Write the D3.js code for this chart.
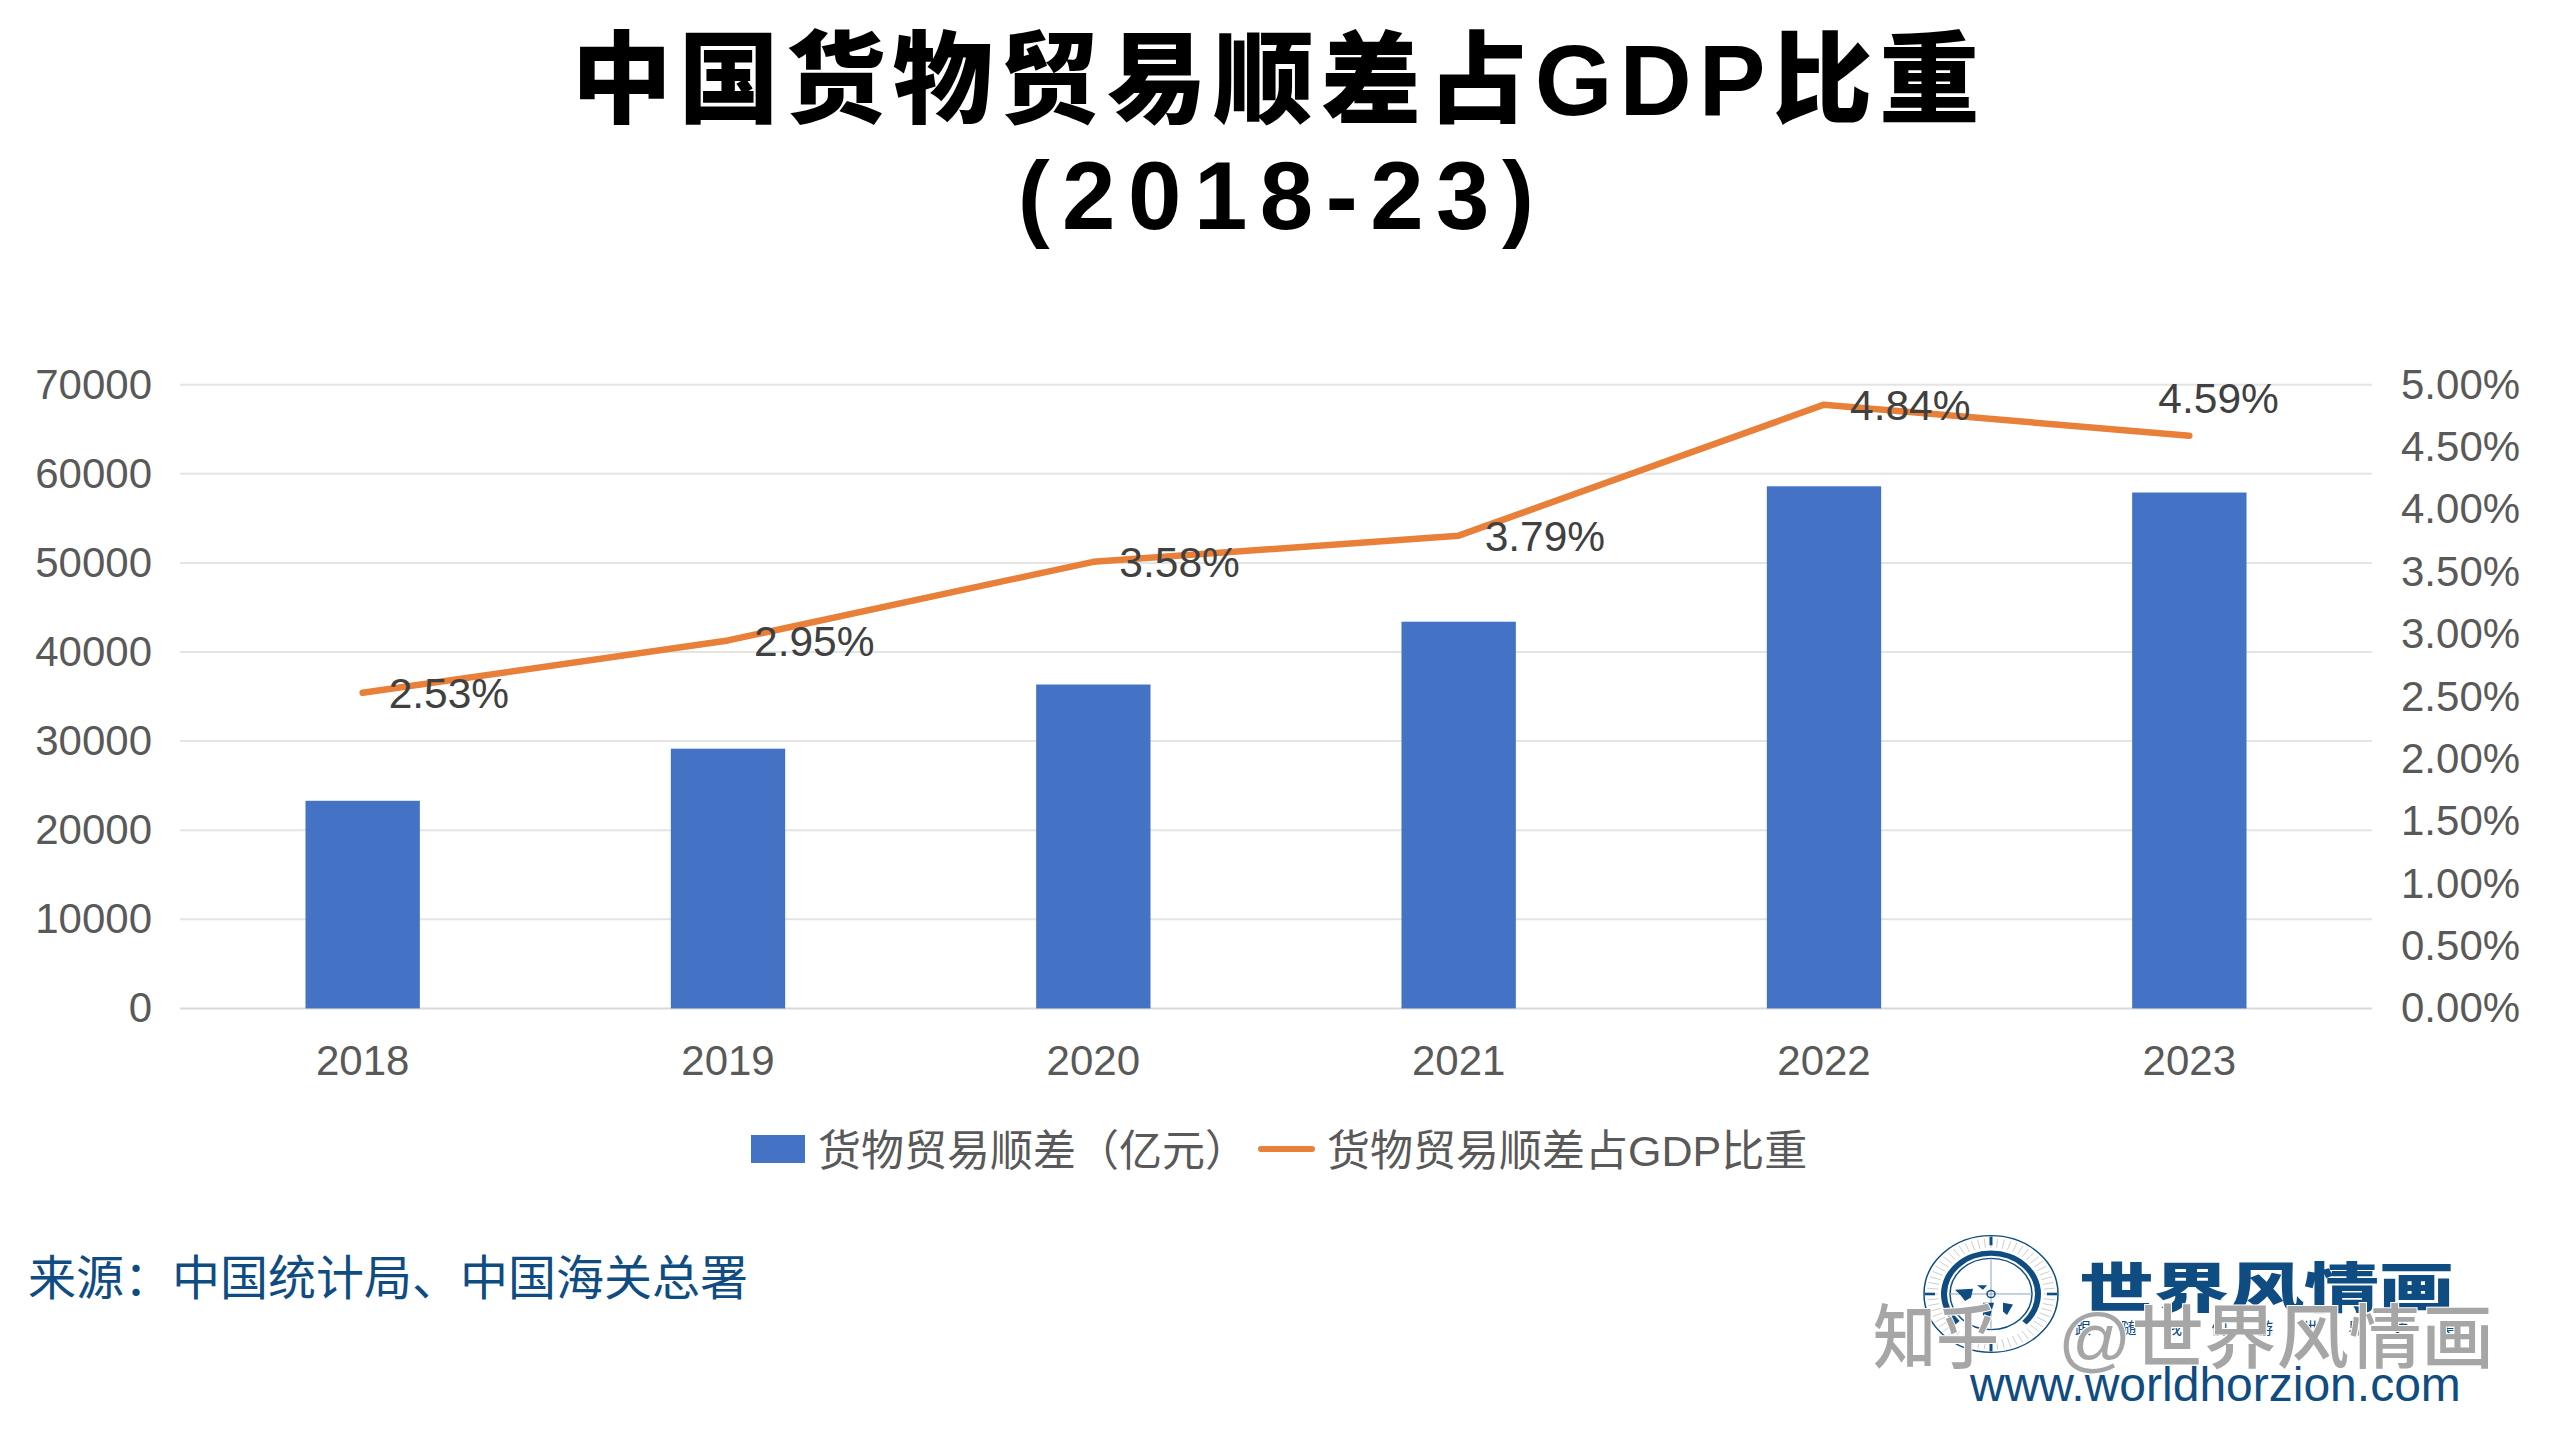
<!DOCTYPE html>
<html>
<head>
<meta charset="utf-8">
<title>中国货物贸易顺差占GDP比重</title>
<script src="https://cdn.jsdelivr.net/npm/d3@7"></script>
<style>
  html, body { margin: 0; background: #fff; }
  svg { display: block; }
  text { font-family: "Liberation Sans", "Noto Sans CJK SC", sans-serif; }
</style>
</head>
<body>
<svg id="chart" width="2560" height="1440"></svg>
<script>
const years = ['2018', '2019', '2020', '2021', '2022', '2023']
const surplus = [23300, 29150, 36350, 43400, 58600, 57900]
const share = [2.53, 2.95, 3.58, 3.79, 4.84, 4.59]
const leftTicks = [0, 10000, 20000, 30000, 40000, 50000, 60000, 70000]
const rightTicks = [0, 0.5, 1, 1.5, 2, 2.5, 3, 3.5, 4, 4.5, 5]
const titleLines = ['中国货物贸易顺差占GDP比重', '(2018-23)']
const legendNames = ['货物贸易顺差（亿元）', '货物贸易顺差占GDP比重']
const source = '来源：中国统计局、中国海关总署'

const blue = '#4472c4'
const orange = '#e9803a'
const navy = '#0f4c81'
const svg = d3.select('#chart')

const x = d3.scaleBand().domain(years).range([180, 2372]).paddingInner(0.687).paddingOuter(0.3435)
const yLeft = d3.scaleLinear().domain([0, 70000]).range([1008.4, 384.7])
const yRight = d3.scaleLinear().domain([0, 5]).range([1008.4, 384.7])
const cx = d => x(d) + x.bandwidth() / 2

// Title
svg.selectAll('text.title')
  .data(titleLines)
  .join('text')
  .attr('class', 'title')
  .attr('x', (d, i) => i ? 1282 : 1279)
  .attr('y', (d, i) => i ? 229 : 115)
  .attr('text-anchor', 'middle')
  .attr('font-size', (d, i) => i ? 96 : 100)
  .attr('font-weight', 900)
  .attr('letter-spacing', (d, i) => i ? 12.5 : 7)
  .attr('fill', '#000')
  .text(d => d)

// Gridlines
svg.append('g')
  .selectAll('line')
  .data(leftTicks)
  .join('line')
  .attr('x1', 180)
  .attr('x2', 2372)
  .attr('y1', d => yLeft(d))
  .attr('y2', d => yLeft(d))
  .attr('stroke', d => d ? '#e4e4e4' : '#d9d9d9')
  .attr('stroke-width', 2)

// Axes
const styleAxis = g => {
  g.select('.domain').remove()
  g.selectAll('.tick line').remove()
  g.selectAll('text')
    .attr('font-size', 42)
    .attr('fill', '#595959')
    .style('font-family', '"Liberation Sans", sans-serif')
}
svg.append('g')
  .attr('transform', 'translate(180,0)')
  .call(d3.axisLeft(yLeft).tickValues(leftTicks).tickFormat(d3.format('d')).tickSize(0).tickPadding(28))
  .call(styleAxis)
svg.append('g')
  .attr('transform', 'translate(2372,0)')
  .call(d3.axisRight(yRight).tickValues(rightTicks).tickFormat(d => d.toFixed(2) + '%').tickSize(0).tickPadding(29))
  .call(styleAxis)
svg.append('g')
  .attr('transform', 'translate(0,1008.4)')
  .call(d3.axisBottom(x).tickSize(0).tickPadding(37))
  .call(styleAxis)

// Bars
svg.append('g')
  .selectAll('rect')
  .data(years)
  .join('rect')
  .attr('x', d => x(d))
  .attr('width', x.bandwidth())
  .attr('y', (d, i) => yLeft(surplus[i]))
  .attr('height', (d, i) => yLeft(0) - yLeft(surplus[i]))
  .attr('fill', blue)

// Line
const line = d3.line()
  .x((d, i) => cx(years[i]))
  .y(d => yRight(d))
svg.append('path')
  .attr('d', line(share))
  .attr('fill', 'none')
  .attr('stroke', orange)
  .attr('stroke-width', 6.5)
  .attr('stroke-linecap', 'round')
  .attr('stroke-linejoin', 'round')

// Data labels, sit right of the point except the last which goes above
svg.append('g')
  .selectAll('text')
  .data(share)
  .join('text')
  .attr('x', (d, i) => cx(years[i]) + (i === 5 ? -31 : 26))
  .attr('y', (d, i) => yRight(d) + (i === 5 ? -38 : 0))
  .attr('dy', '0.36em')
  .attr('font-size', 42.5)
  .attr('fill', '#404040')
  .text(d => d.toFixed(2) + '%')

// Legend
const legend = svg.append('g')
legend.append('rect')
  .attr('x', 751).attr('y', 1135).attr('width', 54).attr('height', 28)
  .attr('fill', blue)
legend.append('line')
  .attr('x1', 1261).attr('x2', 1312).attr('y1', 1149).attr('y2', 1149)
  .attr('stroke', orange).attr('stroke-width', 6).attr('stroke-linecap', 'round')
legend.selectAll('text')
  .data(legendNames)
  .join('text')
  .attr('x', (d, i) => i ? 1327 : 818)
  .attr('y', 1166)
  .attr('font-size', 43)
  .attr('fill', '#595959')
  .text(d => d)

// Source
svg.append('text')
  .attr('x', 28)
  .attr('y', 1295)
  .attr('font-size', 48)
  .attr('fill', navy)
  .text(source)

// Logo: compass dial
const dial = svg.append('g').attr('transform', 'translate(1991,1294) scale(1,0.87)')
dial.append('circle').attr('r', 67).attr('fill', 'none').attr('stroke', navy).attr('stroke-width', 1.5)
dial.selectAll('line.minor')
  .data(d3.range(0, 360, 6))
  .join('line')
  .attr('class', 'minor')
  .attr('x1', d => 53 * Math.sin(d * Math.PI / 180))
  .attr('x2', d => 64 * Math.sin(d * Math.PI / 180))
  .attr('y1', d => -53 * Math.cos(d * Math.PI / 180))
  .attr('y2', d => -64 * Math.cos(d * Math.PI / 180))
  .attr('stroke', '#c9c9c9')
  .attr('stroke-width', 1)
dial.selectAll('line.major')
  .data([0, 90, 180, 270])
  .join('line')
  .attr('class', 'major')
  .attr('x1', d => 56 * Math.sin(d * Math.PI / 180))
  .attr('x2', d => 66 * Math.sin(d * Math.PI / 180))
  .attr('y1', d => -56 * Math.cos(d * Math.PI / 180))
  .attr('y2', d => -66 * Math.cos(d * Math.PI / 180))
  .attr('stroke', navy)
  .attr('stroke-width', 3)
dial.append('path')
  .attr('d', d3.arc()({ innerRadius: 44, outerRadius: 50, startAngle: -2.35, endAngle: 2.35 }))
  .attr('fill', navy)
dial.append('circle').attr('r', 41).attr('fill', 'none').attr('stroke', navy).attr('stroke-width', 1.5)
dial.append('path').attr('d', 'M-41 0H41M0 -41V41').attr('stroke', '#7f9db8').attr('stroke-width', 1)
dial.append('path')
  .attr('d', 'M-36 -5L-18 -6L-20 4L-26 8L-30 2Z M-14 -10L-4 -10L-8 -5Z M-8 10L3 10L-2 30L-8 24Z M12 10L22 12L16 24L12 20Z')
  .attr('fill', navy)
dial.append('circle').attr('cx', 0).attr('cy', 0).attr('r', 4).attr('fill', 'none').attr('stroke', navy).attr('stroke-width', 1.5)

// Logo: name and tagline
svg.append('text')
  .attr('x', 2079).attr('y', 1308)
  .attr('font-size', 54).attr('font-weight', 900).attr('fill', navy)
  .attr('textLength', 375).attr('lengthAdjust', 'spacingAndGlyphs')
  .text('世界风情画')
svg.append('text')
  .attr('x', 2075).attr('y', 1334)
  .attr('font-size', 16).attr('fill', navy)
  .attr('letter-spacing', 29.5)
  .text('跟随我们游世界之美')

// Watermark
svg.selectAll('text.mark')
  .data([
    { text: '知乎', left: 1873, width: 126 },
    { text: '@世界风情画', left: 2058, width: 436 }
  ])
  .join('text')
  .attr('class', 'mark')
  .attr('x', d => d.left)
  .attr('y', 1363)
  .attr('font-size', 70)
  .attr('font-weight', 500)
  .attr('fill', '#a6a6a6')
  .attr('stroke', '#fff')
  .attr('stroke-width', 2)
  .attr('paint-order', 'stroke')
  .attr('textLength', d => d.width)
  .attr('lengthAdjust', 'spacingAndGlyphs')
  .text(d => d.text)

svg.append('text')
  .attr('x', 1970).attr('y', 1401)
  .attr('font-size', 48).attr('fill', navy)
  .text('www.worldhorzion.com')
</script>
</body>
</html>
